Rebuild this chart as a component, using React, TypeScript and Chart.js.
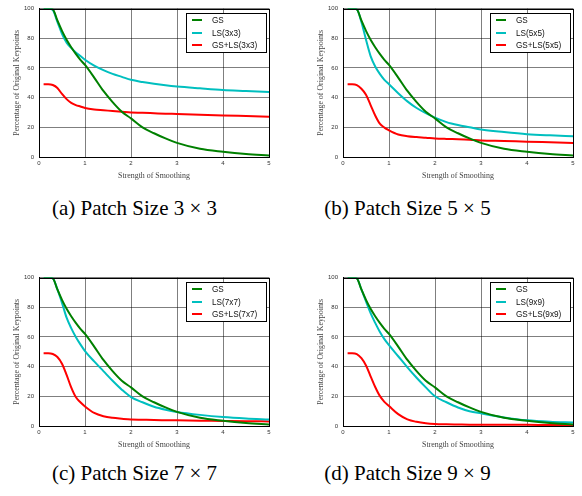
import React, { useEffect, useRef } from "react";
import { Chart, registerables } from "chart.js";

Chart.register(...registerables);

// ---- Data ----
const SMOOTHING = [0.1, 0.2, 0.3, 0.4, 0.5, 0.6, 0.7, 0.8, 0.9, 1.0, 1.2, 1.4, 1.6, 1.8, 2.0, 2.25, 2.5, 2.75, 3.0, 3.5, 4.0, 4.5, 5.0];

const GS = [100, 100, 99.5, 92, 85, 79, 74, 69.5, 65.5, 62, 53.5, 44.5, 37, 30.5, 26, 20, 16, 12.5, 9.5, 5.5, 3.5, 2, 1];

const LS_3 = [100, 100, 99, 91, 83, 77, 73.5, 70.5, 68, 65.5, 61.5, 58.5, 56, 54, 52, 50.5, 49.3, 48.3, 47.5, 46.3, 45.2, 44.5, 43.8];
const GSLS_3 = [49, 49, 48.5, 46.5, 42.5, 39, 36.5, 35, 34, 33, 32, 31.5, 31, 30.5, 30, 29.8, 29.5, 29.2, 29, 28.5, 28, 27.6, 27.2];

const LS_5 = [100, 100, 99.5, 91, 79, 68, 61, 56, 52, 49, 43, 37.5, 33, 29.5, 26.5, 23.5, 21.5, 20, 18.5, 16.8, 15.4, 14.6, 14];
const GSLS_5 = [49, 49, 48.5, 46, 42, 35, 28, 22.5, 19.8, 18, 15.2, 14, 13.4, 13, 12.5, 12.2, 12, 11.7, 11.2, 10.8, 10.3, 9.9, 9.5];

const LS_7 = [100, 100, 99.5, 92, 83, 73, 66, 60, 55, 50.5, 43.5, 37, 30.5, 24.5, 19.5, 16, 13, 11, 9.5, 7.5, 6, 5, 4.3];
const GSLS_7 = [49, 49, 48.5, 46.5, 42, 34.5, 26, 19.5, 16, 13.2, 8.8, 6.6, 5.5, 4.9, 4.4, 4.2, 4, 3.9, 3.8, 3.6, 3.4, 3.2, 3.1];

const LS_9 = [100, 100, 99.5, 92, 84, 76, 69.5, 63.5, 58.5, 54.5, 47, 39.5, 32.5, 26, 20, 16, 12.5, 10, 8.5, 5.8, 3.8, 2.8, 2.3];
const GSLS_9 = [49, 49, 48.5, 45.7, 40.8, 33.5, 26.3, 20.3, 16.3, 13.5, 8, 4.5, 2.8, 1.8, 1.3, 1.1, 1, 0.9, 0.9, 0.8, 0.8, 0.7, 0.7];

const PATCH_SIZES = ["3x3", "5x5", "7x7", "9x9"];
const LS_SERIES = [LS_3, LS_5, LS_7, LS_9];
const GSLS_SERIES = [GSLS_3, GSLS_5, GSLS_7, GSLS_9];
const CAPTIONS = [
  "(a) Patch Size 3 × 3",
  "(b) Patch Size 5 × 5",
  "(c) Patch Size 7 × 7",
  "(d) Patch Size 9 × 9",
];

const X_TITLE = "Strength of Smoothing";
const Y_TITLE = "Percentage of Original Keypoints";

// ---- Layout / style ----
const COLORS = { gs: "#008000", ls: "#00BFBF", gsls: "#FF0000" };
const CANVAS_W = 278;
const CANVAS_H = 190;
const PANEL_POS = [
  { left: 0, top: 0, capX: 134.5, capTop: 198 },
  { left: 304, top: 0, capX: 407.5, capTop: 198 },
  { left: 0, top: 269, capX: 134.5, capTop: 463 },
  { left: 304, top: 269, capX: 407.5, capTop: 463 },
];

const SERIF = '"Liberation Serif", "Times New Roman", Times, serif';
const SANS = '"Liberation Sans", Arial, Helvetica, sans-serif';
const GRID_COLOR = "rgba(0,0,0,0.5)";

const frameAndLegend = {
  id: "frameAndLegend",
  afterDraw(chart: any) {
    const { ctx, chartArea } = chart;
    const l = Math.round(chartArea.left);
    const t = Math.round(chartArea.top);
    const r = Math.round(chartArea.right);
    const b = Math.round(chartArea.bottom);
    ctx.save();
    ctx.setLineDash([]);
    ctx.strokeStyle = "#000";
    ctx.lineWidth = 1;
    ctx.strokeRect(l + 0.5, t + 0.5, r - l, b - t);

    // legend box
    const w = 80;
    const h = 39;
    const x = r - 3 - w;
    const y = t + 4;
    ctx.fillStyle = "#fff";
    ctx.fillRect(x, y, w, h);
    ctx.strokeStyle = "#000";
    ctx.lineWidth = 1;
    ctx.strokeRect(x + 0.5, y + 0.5, w, h);
    chart.data.datasets.forEach((ds: any, i: number) => {
      const cy = Math.round(y + 7 + i * 12.7);
      ctx.strokeStyle = ds.borderColor;
      ctx.lineWidth = 2;
      ctx.beginPath();
      ctx.moveTo(x + 6, cy);
      ctx.lineTo(x + 16, cy);
      ctx.stroke();
      ctx.fillStyle = "#111";
      ctx.font = `8.2px ${SANS}`;
      ctx.textBaseline = "middle";
      ctx.textAlign = "left";
      ctx.fillText(ds.label, x + 26, cy + 0.5);
    });
    ctx.restore();
  },
};

function toPoints(ys: number[]) {
  return SMOOTHING.map((x, i) => ({ x, y: ys[i] }));
}

function Panel({ index }: { index: number }) {
  const ref = useRef<HTMLCanvasElement>(null);
  const pos = PANEL_POS[index];
  useEffect(() => {
    const size = PATCH_SIZES[index];
    const mk = (label: string, ys: number[], color: string) => ({
      label,
      data: toPoints(ys),
      borderColor: color,
      backgroundColor: color,
      borderWidth: 2,
      pointRadius: 0,
      fill: false,
      cubicInterpolationMode: "monotone" as const,
    });
    const chart = new Chart(ref.current as HTMLCanvasElement, {
      type: "line",
      data: {
        datasets: [
          mk("GS", GS, COLORS.gs),
          mk(`LS(${size})`, LS_SERIES[index], COLORS.ls),
          mk(`GS+LS(${size})`, GSLS_SERIES[index], COLORS.gsls),
        ],
      },
      options: {
        animation: false,
        responsive: false,
        maintainAspectRatio: false,
        devicePixelRatio: 1,
        layout: { padding: { top: 6, right: 9, left: 0, bottom: 0 } },
        plugins: { legend: { display: false }, tooltip: { enabled: false }, title: { display: false } },
        scales: {
          x: {
            type: "linear",
            min: 0,
            max: 5,
            ticks: { stepSize: 1, padding: 3, color: "#333", font: { family: SANS, size: 6 }, maxRotation: 0 },
            grid: { display: true, drawOnChartArea: true, drawTicks: false, color: GRID_COLOR, lineWidth: 1 },
            border: { display: true, color: "#000", width: 1 },
            title: {
              display: true,
              text: X_TITLE,
              color: "#444",
              font: { family: SERIF, size: 7.9 },
              padding: { top: 0, bottom: 9.3 },
            },
            afterFit: (s: any) => {
              s.height = 33;
            },
          },
          y: {
            type: "linear",
            min: 0,
            max: 100,
            ticks: { stepSize: 20, padding: 5, color: "#333", font: { family: SANS, size: 6 } },
            grid: { display: true, drawOnChartArea: true, drawTicks: false, color: GRID_COLOR, lineWidth: 1 },
            border: { display: true, color: "#000", width: 1 },
            title: {
              display: true,
              text: Y_TITLE,
              color: "#444",
              font: { family: SERIF, size: 7.9 },
              padding: { top: 12.3, bottom: 0 },
            },
            afterFit: (s: any) => {
              s.width = 39;
            },
          },
        },
      },
      plugins: [frameAndLegend],
    });
    return () => chart.destroy();
  }, [index]);
  return (
    <>
      <canvas
        ref={ref}
        width={CANVAS_W}
        height={CANVAS_H}
        style={{ position: "absolute", left: pos.left, top: pos.top, width: CANVAS_W, height: CANVAS_H }}
      />
      <div
        style={{
          position: "absolute",
          left: pos.capX - 130,
          top: pos.capTop,
          width: 260,
          textAlign: "center",
          fontFamily: SERIF,
          fontSize: 21,
          lineHeight: "21px",
          color: "#000",
          whiteSpace: "nowrap",
        }}
      >
        {CAPTIONS[index]}
      </div>
    </>
  );
}

export default function App() {
  return (
    <div
      style={{
        position: "absolute",
        left: 0,
        top: 0,
        width: 582,
        height: 496,
        overflow: "hidden",
        background: "#fff",
      }}
    >
      {[0, 1, 2, 3].map((i) => (
        <Panel key={i} index={i} />
      ))}
    </div>
  );
}
